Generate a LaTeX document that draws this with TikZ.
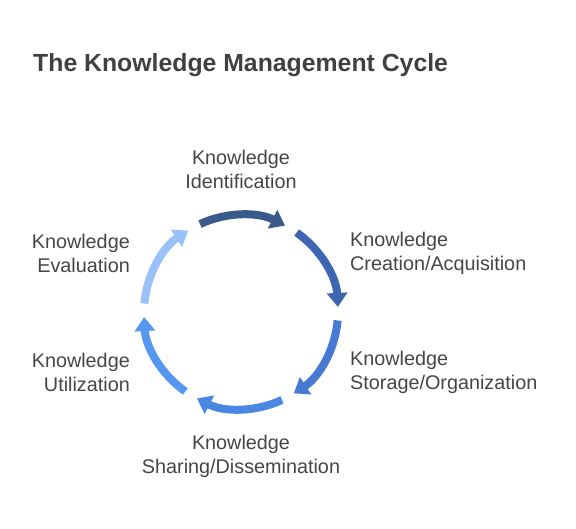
\documentclass[tikz,border=0pt]{standalone}
\usepackage{fontspec}
\setmainfont{Liberation Sans}
\usetikzlibrary{arrows.meta}

\definecolor{textgray}{HTML}{454545}
\definecolor{titlegray}{HTML}{404040}
\definecolor{stepA}{HTML}{3B5A8C}
\definecolor{stepB}{HTML}{3F66B2}
\definecolor{stepC}{HTML}{4579D2}
\definecolor{stepD}{HTML}{4A87E2}
\definecolor{stepE}{HTML}{5697F0}
\definecolor{stepF}{HTML}{9AC1F8}

\begin{document}
\begin{tikzpicture}[x = 1pt, y = 1pt,
  cyclearrow/.style = {line width = 8pt, -{Triangle[width = 20pt, length = 14pt]}},
  stagelabel/.style = {text = textgray, inner sep = 0pt, font = \fontsize{19.8}{24}\selectfont}]
\useasboundingbox (0, 0) rectangle (576, 528);

\node[anchor = west, inner sep = 0pt, text = titlegray, font = \fontsize{24.8}{28}\selectfont\bfseries] (title) at (33, 463) {The Knowledge Management Cycle};

\node[stagelabel, align = center] (ident) at (241, 359) {Knowledge\\Identification};
\node[stagelabel, align = left, anchor = west] (create) at (350, 275) {Knowledge\\Creation/Acquisition};
\node[stagelabel, align = left, anchor = west] (store) at (350, 156) {Knowledge\\Storage/Organization};
\node[stagelabel, align = center] (share) at (241, 72) {Knowledge\\Sharing/Dissemination};
\node[stagelabel, align = right, anchor = east] (util) at (130, 156) {Knowledge\\Utilization};
\node[stagelabel, align = right, anchor = east] (eval) at (130, 275) {Knowledge\\Evaluation};

\begin{scope}[shift = {(241, 216)}]
\coordinate (c1) at (115:97pt);
\coordinate (c2) at (55:97pt);
\coordinate (c3) at (-5:97pt);
\coordinate (c4) at (-65:97pt);
\coordinate (c5) at (-125:97pt);
\coordinate (c6) at (175:97pt);

\draw[cyclearrow, stepA] (c1) arc[start angle = 115, end angle = 63, radius = 97pt];
\draw[cyclearrow, stepB] (c2) arc[start angle = 55, end angle = 3, radius = 97pt];
\draw[cyclearrow, stepC] (c3) arc[start angle = -5, end angle = -57, radius = 97pt];
\draw[cyclearrow, stepD] (c4) arc[start angle = -65, end angle = -117, radius = 97pt];
\draw[cyclearrow, stepE] (c5) arc[start angle = -125, end angle = -177, radius = 97pt];
\draw[cyclearrow, stepF] (c6) arc[start angle = 175, end angle = 123, radius = 97pt];
\end{scope}

\end{tikzpicture}
\end{document}
